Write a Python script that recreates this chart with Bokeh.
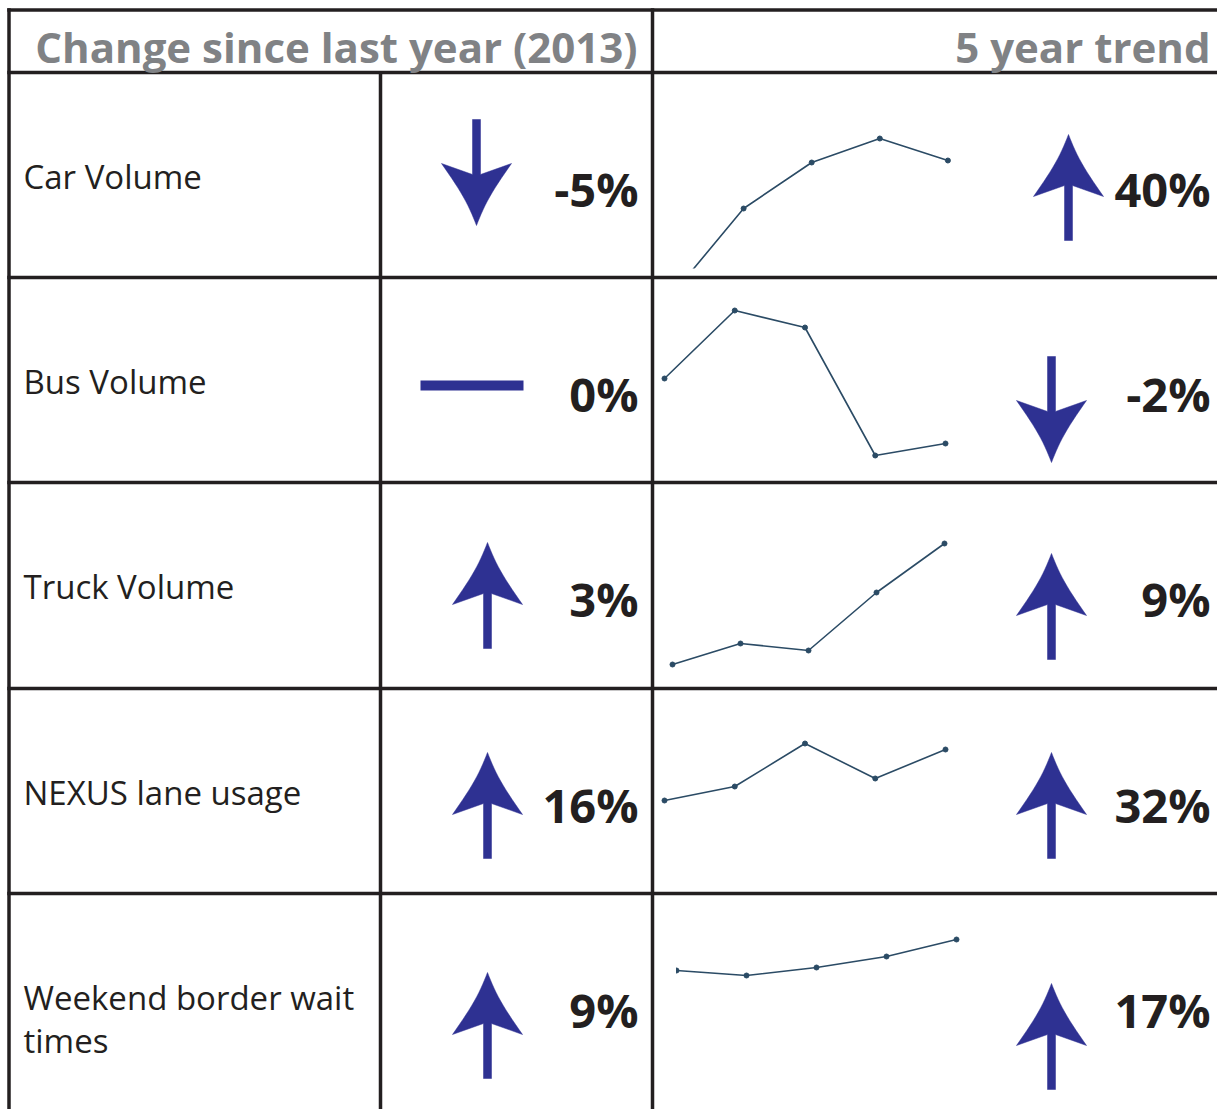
import math
from bokeh.plotting import figure
from bokeh.models import Range1d, ColumnDataSource
from bokeh.core.properties import value
from bokeh.embed import file_html
from bokeh.resources import INLINE

# ---------------- data ----------------
header_left = "Change since last year (2013)"
header_right = "5 year trend"
categories = ["Car Volume", "Bus Volume", "Truck Volume", "NEXUS lane usage",
              "Weekend border wait times"]
label_lines = [["Car Volume"], ["Bus Volume"], ["Truck Volume"], ["NEXUS lane usage"],
               ["Weekend border wait", "times"]]
yoy_change = [-5, 0, 3, 16, 9]          # change since last year, %
trend_change = [40, -2, 9, 32, 17]      # 5 year trend, %
years = [2009, 2010, 2011, 2012, 2013]
# sparkline levels (relative units)
spark_car = [-13, 69, 115, 139, 117]
spark_bus = [104, 172, 155, 27, 39]
spark_truck = [24, 45, 38, 96, 145]
spark_nexus = [93, 107, 150, 115, 144]
spark_wait = [128, 123, 131, 142, 159]
sparks = [spark_car, spark_bus, spark_truck, spark_nexus, spark_wait]

# ---------------- layout (screen pixels) ----------------
W, H = 1217, 1109
X0, Y0 = 0, 0
row_tops = [72, 277, 482, 688, 893]
row_bottoms = [277, 482, 688, 893, 1098]
col_lines = [8.5, 380, 652]
spark_x0 = [675, 664, 672, 664, 676]     # pixel x of first year
spark_dx = [68.1, 70.25, 68.0, 70.25, 70.0]
arrow2_cx = [476, 471.5, 487, 487, 487]
arrow2_top = [119, 380, 542, 752, 972]
arrow4_cx = [1068, 1051, 1051, 1051, 1051]
arrow4_top = [134, 356, 553, 752, 983]

GRID = "#231f20"
NAVY = "#2e3192"
SPARK = "#2b4b65"
GRAY = "#808285"
FONT = "Open Sans"

p = figure(width=W, height=H, x_range=Range1d(X0, X0 + W), y_range=Range1d(Y0 + H, Y0),
           output_backend="svg", toolbar_location=None, min_border=0,
           x_axis_type=None, y_axis_type=None, outline_line_color=None)
p.grid.visible = False
p.background_fill_color = "white"
p.border_fill_color = "white"


def arrow_shape(cx, top, up=True):
    L, hw, wing, notch, sw = 106, 35, 62, 51, 4
    pts = []
    n = 14
    for i in range(n + 1):
        s = i / n
        x = cx - hw * s
        y = wing * s
        bow = 5.0 * math.sin(math.pi * s)
        nx, ny = wing, hw
        ln = math.hypot(nx, ny)
        x += bow * nx / ln
        y -= bow * ny / ln
        pts.append((x, y))
    pts += [(cx - sw, notch), (cx - sw, L), (cx + sw, L), (cx + sw, notch)]
    right = [(2 * cx - x, y) for (x, y) in reversed(pts[:n + 1])]
    pts += right
    xs = [q[0] for q in pts]
    if up:
        ys = [top + q[1] for q in pts]
    else:
        ys = [top + L - q[1] for q in pts]
    return xs, ys


def draw_indicator(val, cx, top, xs_acc, ys_acc):
    if val == 0:
        p.quad(left=[cx - 51.5], right=[cx + 51.5], top=[top], bottom=[top + 10],
               fill_color=NAVY, line_color=None)
    else:
        xs, ys = arrow_shape(cx, top, up=val > 0)
        xs_acc.append(xs)
        ys_acc.append(ys)


axs, ays = [], []
for i in range(len(categories)):
    draw_indicator(yoy_change[i], arrow2_cx[i], arrow2_top[i], axs, ays)
    draw_indicator(trend_change[i], arrow4_cx[i], arrow4_top[i], axs, ays)
p.patches(xs=axs, ys=ays, fill_color=NAVY, line_color=NAVY, line_width=0.5)

# sparklines, each with its own scales
for i, vals in enumerate(sparks):
    xr = f"sx{i}"
    yr = f"sy{i}"
    x0, dx = spark_x0[i], spark_dx[i]
    p.extra_x_ranges[xr] = Range1d(years[0] - (x0 - X0) / dx, years[0] + (X0 + W - x0) / dx)
    b = row_bottoms[i]
    p.extra_y_ranges[yr] = Range1d(b - (Y0 + H), b - Y0)
    src = ColumnDataSource(dict(year=years, v=vals))
    p.line("year", "v", source=src, x_range_name=xr, y_range_name=yr,
           line_color=SPARK, line_width=1.6)
    p.scatter("year", "v", source=src, x_range_name=xr, y_range_name=yr,
              size=5, fill_color=SPARK, line_color=SPARK)

# clip masks (sparkline boxes)
p.quad(left=[655], right=[722], top=[268], bottom=[300], fill_color="white", line_color=None)
p.quad(left=[655], right=[675.5], top=[960], bottom=[980], fill_color="white", line_color=None)

# grid lines
hl = [9.5] + row_tops
p.segment(x0=[col_lines[0] - 1.75] * len(hl), x1=[X0 + W] * len(hl), y0=hl, y1=hl,
          line_color=GRID, line_width=3.5)
p.segment(x0=[col_lines[0], col_lines[2]], x1=[col_lines[0], col_lines[2]],
          y0=[7.75, 7.75], y1=[Y0 + H, Y0 + H], line_color=GRID, line_width=3.5)
p.segment(x0=[col_lines[1]], x1=[col_lines[1]], y0=[row_tops[0]], y1=[Y0 + H],
          line_color=GRID, line_width=3.5)

# headers
p.text(x=[637, 1210], y=[46, 46], text=[header_left, header_right],
       text_font=value(FONT), text_font_style="bold", text_font_size="42px",
       text_color=GRAY, text_align="right", text_baseline="alphabetic")

# row labels
lx, ly, lt = [], [], []
for i, lines in enumerate(label_lines):
    for k, t in enumerate(lines):
        lx.append(23)
        ly.append(row_tops[i] + 104 + 43 * k)
        lt.append(t)
p.text(x=lx, y=ly, text=lt, text_font=value(FONT), text_font_size="33px",
       text_color=GRID, text_align="left", text_baseline="alphabetic")

# percentages
px, py, pt = [], [], []
for i in range(len(categories)):
    px += [638, 1210]
    py += [row_tops[i] + 116, row_tops[i] + 116]
    pt += [f"{yoy_change[i]}%", f"{trend_change[i]}%"]
p.text(x=px, y=py, text=pt, text_font=value(FONT), text_font_style="bold",
       text_font_size="47px", text_color=GRID, text_align="right",
       text_baseline="alphabetic")

open("out.html", "w").write(file_html(p, INLINE))
